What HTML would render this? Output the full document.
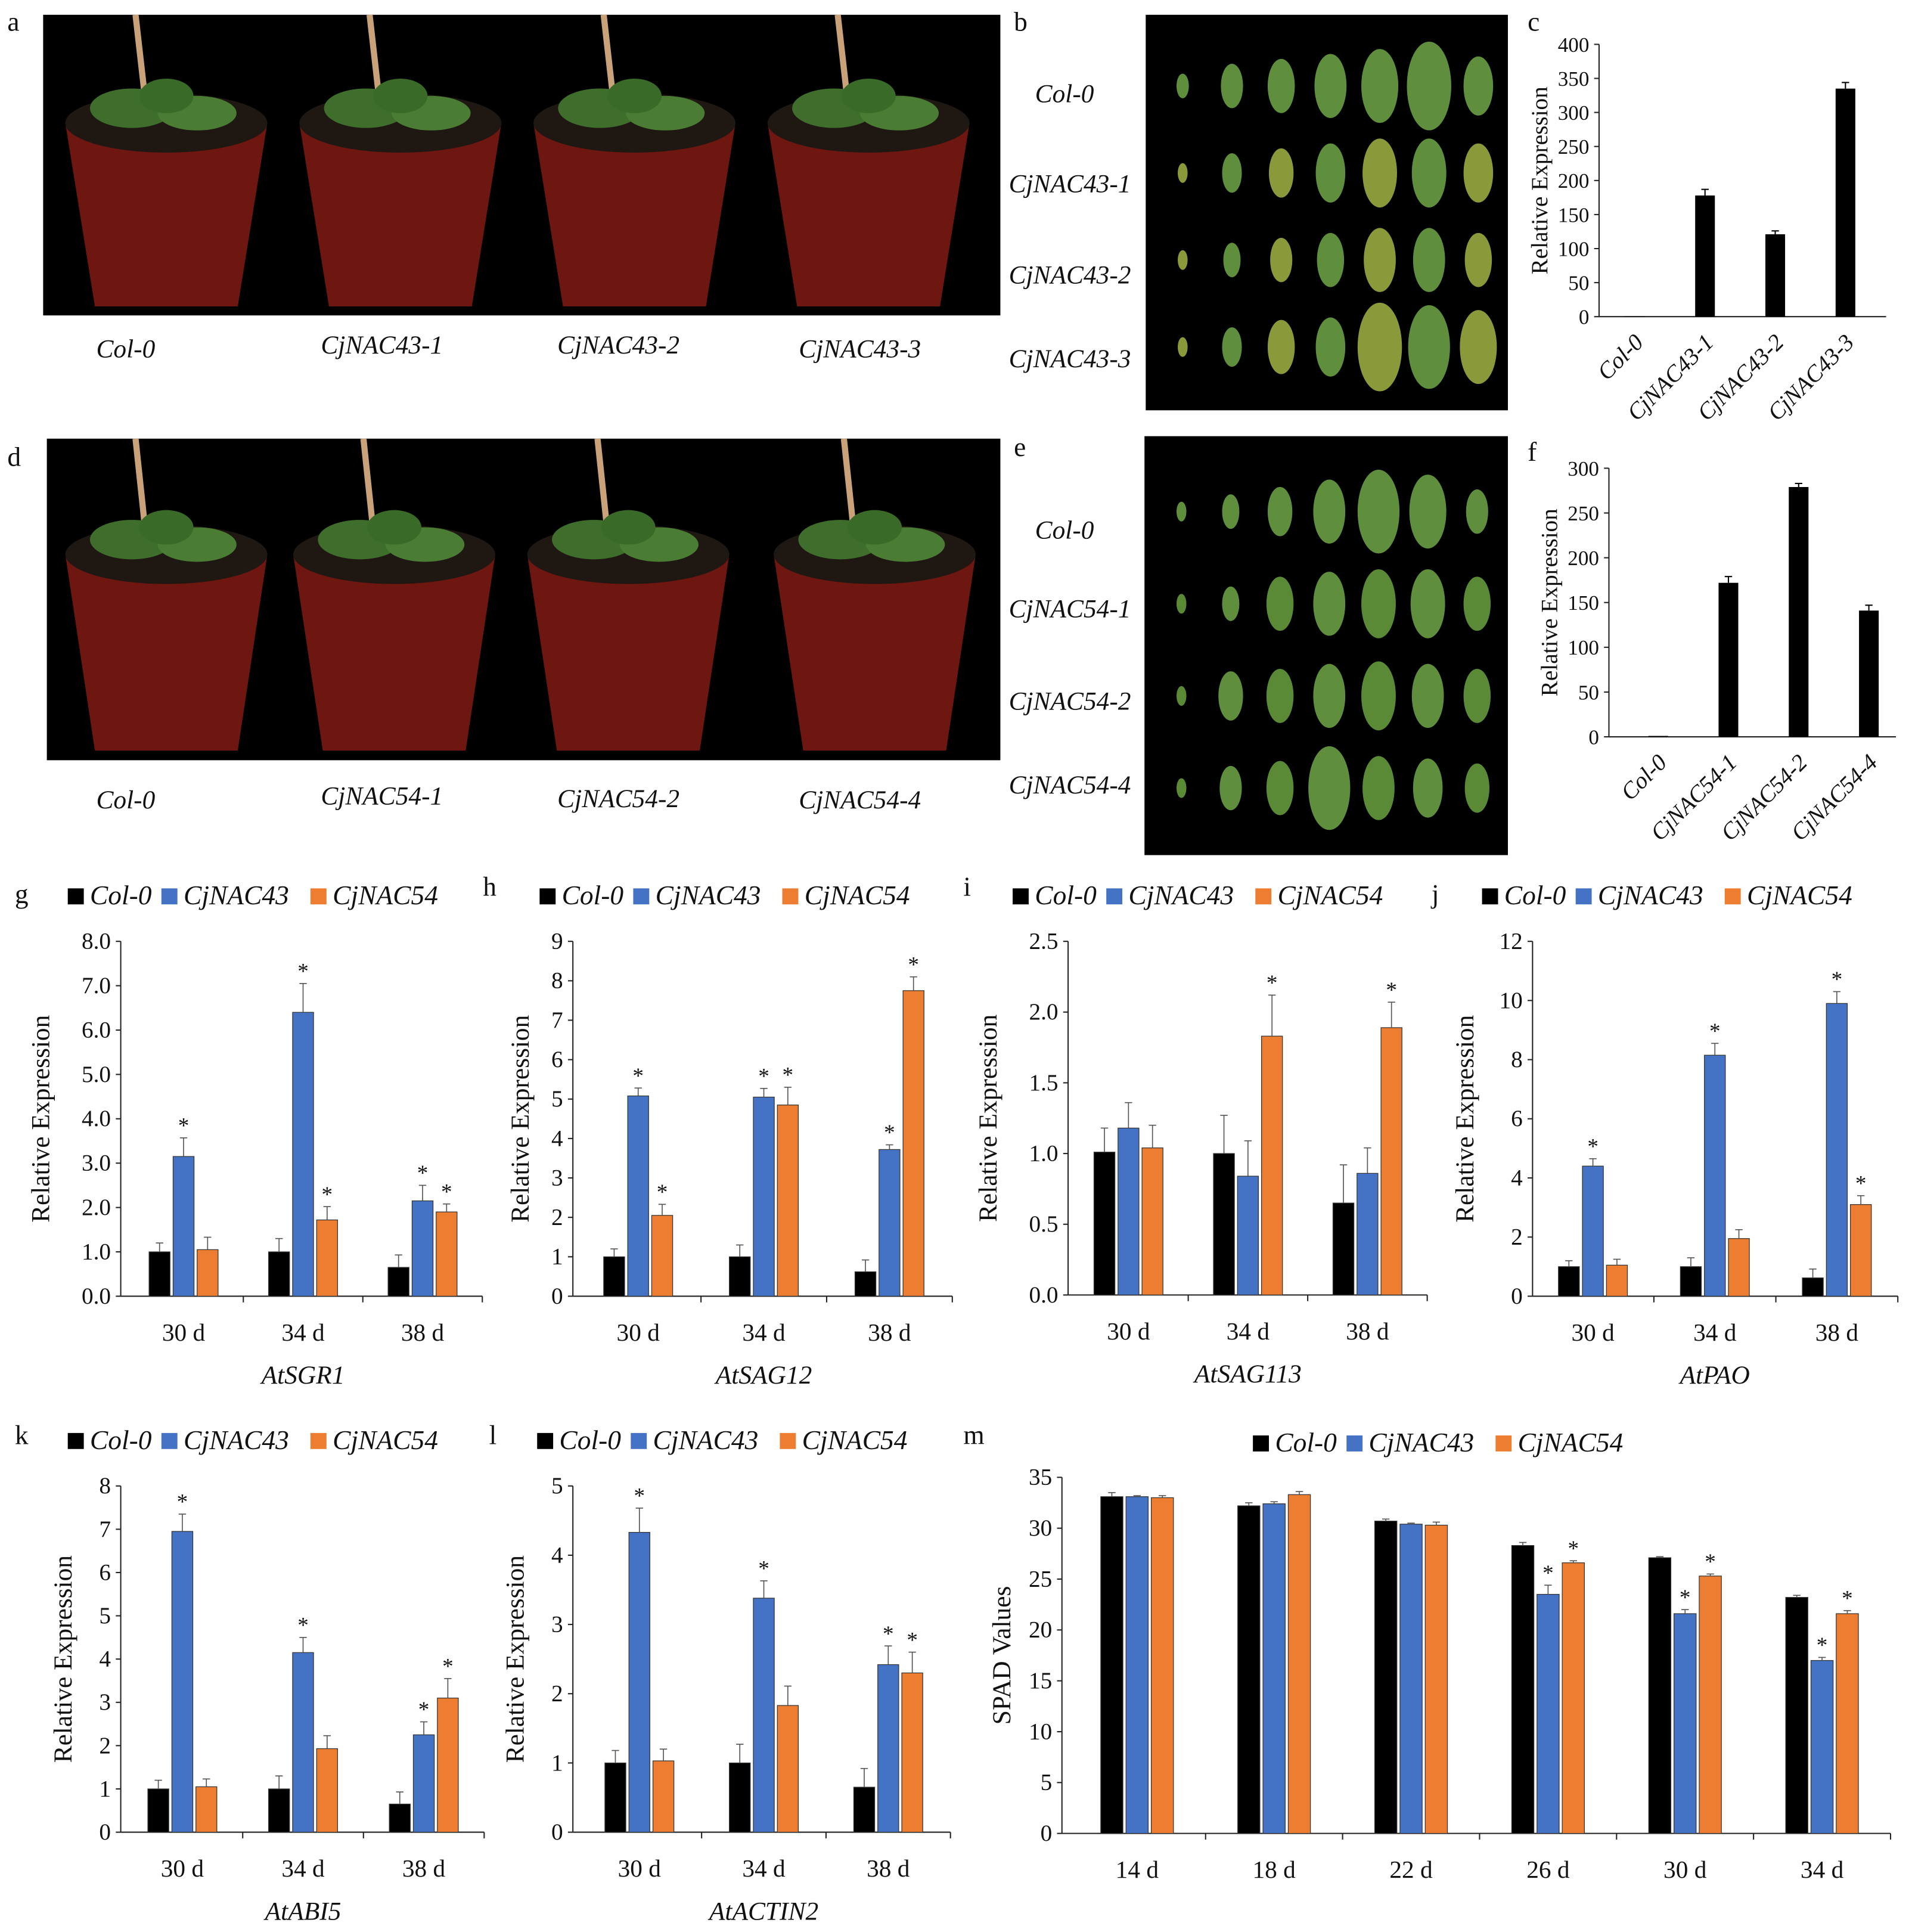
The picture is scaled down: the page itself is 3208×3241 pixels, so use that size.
<!DOCTYPE html>
<html><head><meta charset="utf-8"><style>
html,body{margin:0;padding:0;background:#fff;}
svg{display:block;}
text{font-family:"Liberation Serif",serif;fill:#111;}
.it{font-style:italic;}
</style></head><body>
<svg id="fig" xmlns="http://www.w3.org/2000/svg" width="3208" height="3241" viewBox="0 0 1552 1568">
<rect width="1552" height="1568" fill="#fff"/>
<g id="photos"></g>
<g id="charts"></g>
</svg>
<script>
// ---------- data ----------
const expLinesC = ["Col-0","CjNAC43-1","CjNAC43-2","CjNAC43-3"];
const expValsC = [0.5,178,121,335];
const expErrC = [0,9,5,9];
const expLinesF = ["Col-0","CjNAC54-1","CjNAC54-2","CjNAC54-4"];
const expValsF = [1,172,279,141];
const expErrF = [0,7,4,6];
const days3 = ["30 d","34 d","38 d"];
const sgr1Col = [1.0,1.0,0.65], sgr1N43 = [3.15,6.4,2.15], sgr1N54 = [1.05,1.72,1.9];
const sgr1ErrCol = [0.2,0.3,0.28], sgr1Err43 = [0.42,0.65,0.35], sgr1Err54 = [0.28,0.3,0.18];
const sag12Col = [1,1,0.62], sag12N43 = [5.08,5.05,3.72], sag12N54 = [2.05,4.85,7.75];
const sag12ErrCol = [0.2,0.3,0.3], sag12Err43 = [0.2,0.22,0.12], sag12Err54 = [0.28,0.45,0.35];
const sag113Col = [1.01,1.0,0.65], sag113N43 = [1.18,0.84,0.86], sag113N54 = [1.04,1.83,1.89];
const sag113ErrCol = [0.17,0.27,0.27], sag113Err43 = [0.18,0.25,0.18], sag113Err54 = [0.16,0.29,0.18];
const paoCol = [1,1,0.62], paoN43 = [4.4,8.15,9.9], paoN54 = [1.05,1.95,3.1];
const paoErrCol = [0.2,0.3,0.3], paoErr43 = [0.25,0.4,0.4], paoErr54 = [0.2,0.3,0.3];
const abi5Col = [1,1,0.65], abi5N43 = [6.95,4.15,2.25], abi5N54 = [1.05,1.93,3.1];
const abi5ErrCol = [0.2,0.3,0.28], abi5Err43 = [0.4,0.35,0.3], abi5Err54 = [0.18,0.3,0.45];
const actCol = [1,1,0.65], actN43 = [4.33,3.38,2.42], actN54 = [1.03,1.83,2.3];
const actErrCol = [0.18,0.27,0.27], actErr43 = [0.35,0.25,0.27], actErr54 = [0.17,0.28,0.3];
const spadDays = ["14 d","18 d","22 d","26 d","30 d","34 d"];
const spadCol = [33.1,32.2,30.7,28.3,27.1,23.2];
const spadN43 = [33.1,32.4,30.4,23.5,21.6,17.0];
const spadN54 = [33.0,33.3,30.3,26.6,25.3,21.6];
const spadErrCol = [0.4,0.3,0.2,0.3,0.1,0.2];
const spadErr43 = [0.1,0.2,0.1,0.9,0.4,0.3];
const spadErr54 = [0.2,0.3,0.3,0.2,0.2,0.3];
const spadStar43 = [0,0,0,1,1,1], spadStar54 = [0,0,0,1,1,1];

const NS="http://www.w3.org/2000/svg";
const photos=document.getElementById('photos');
const charts=document.getElementById('charts');
function el(tag,attrs,parent,txt){const e=document.createElementNS(NS,tag);for(const k in attrs)e.setAttribute(k,attrs[k]);if(txt!==undefined)e.textContent=txt;parent.appendChild(e);return e;}
function label(x,y,t,parent,size,italic,anchor){const e=el('text',{x:x,y:y,'font-size':size||20,'text-anchor':anchor||'start'},parent,t);if(italic)e.setAttribute('class','it');return e;}

// ---------- panel letters ----------
const letters=[["a",6,25],["b",823,25],["c",1240,25],["d",6,378],["e",823,370],["f",1240,374],["g",12,733],["h",392,727],["i",782,727],["j",1162,733],["k",12,1172],["l",397,1172],["m",782,1172]];
letters.forEach(l=>{const t=label(l[1],l[2],l[0],charts,22);

});

// ---------- photos ----------
function potPhoto(x,y,w,h,centers,name){
  const g=el('g',{},photos);
  
  
  el('rect',{x:x,y:y,width:w,height:h,fill:'#000'},g);
  centers.forEach(c=>{
    const top=y+h*0.36, bot=y+h*0.97;
    el('line',{x1:c-15,y1:top,x2:c-25,y2:y,stroke:'#c9a27a','stroke-width':5},g);
    el('path',{d:`M${c-82},${top} L${c+82},${top} L${c+58},${bot} L${c-58},${bot} Z`,fill:'#6e1610'},g);
    el('ellipse',{cx:c,cy:top,rx:82,ry:24,fill:'#1e1712'},g);
    el('ellipse',{cx:c-28,cy:top-12,rx:34,ry:16,fill:'#3f6e2c'},g);
    el('ellipse',{cx:c+25,cy:top-8,rx:32,ry:14,fill:'#4a7d33'},g);
    el('ellipse',{cx:c,cy:top-22,rx:22,ry:14,fill:'#3a6a28'},g);
  });
}
potPhoto(35,12,777,244,[135,325,515,705],'photo-a');
potPhoto(38,356,774,261,[135,320,510,710],'photo-d');
function leafPhoto(x,y,w,h,name,sizes,tint){
  const g=el('g',{},photos);
  
  
  el('rect',{x:x,y:y,width:w,height:h,fill:'#000'},g);
  for(let r=0;r<4;r++){for(let i=0;i<7;i++){
    const cx=x+30+i*40, cy=y+h*(0.18+r*0.22);
    const s=sizes[r][i];
    el('ellipse',{cx:cx,cy:cy,rx:s*0.5,ry:s,fill:(r>0&&i%2==0)?tint:'#5f8f3c'},g);
  }}
}
leafPhoto(930,12,294,321,'photo-b',[[10,18,22,26,30,36,24],[8,16,20,24,28,28,24],[8,14,18,22,26,26,22],[8,16,22,24,36,34,30]],'#8a9a3a');
leafPhoto(929,354,295,340,'photo-e',[[8,14,20,26,34,30,18],[8,14,22,26,28,28,22],[8,20,22,26,28,26,22],[8,18,22,34,26,24,20]],'#5a8a36');
const lineLabels=[["Col-0",888,83],["CjNAC43-1",918,156],["CjNAC43-2",918,230],["CjNAC43-3",918,298],["Col-0",888,437],["CjNAC54-1",918,501],["CjNAC54-2",918,576],["CjNAC54-4",918,644]];
lineLabels.forEach(l=>{const t=label(l[1],l[2],l[0],photos,21,true,'end');

});
const potLabels=[["Col-0",102,290],["CjNAC43-1",310,287],["CjNAC43-2",502,287],["CjNAC43-3",698,290],["Col-0",102,656],["CjNAC54-1",310,653],["CjNAC54-2",502,655],["CjNAC54-4",698,656]];
potLabels.forEach(l=>{const t=label(l[1],l[2],l[0],photos,21,true,'middle');

});

// ---------- single-series chart (c, f) ----------
function simpleChart(name,ax,yTop,yBot,max,step,cats,vals,errs,x0,dx){
  const g=el('g',{},charts);
  
  
  const Y=v=>yBot-(v/max)*(yBot-yTop);
  el('line',{x1:ax,y1:yTop,x2:ax,y2:yBot,stroke:'#222','stroke-width':1},g);
  el('line',{x1:ax,y1:yBot,x2:ax+4*dx+5,y2:yBot,stroke:'#222','stroke-width':1},g);
  for(let v=0;v<=max+1e-9;v+=step){
    el('line',{x1:ax-4,y1:Y(v),x2:ax,y2:Y(v),stroke:'#222'},g);
    const t=label(ax-8,Y(v)+6,String(v),g,17,false,'end');
    
    
  }
  const tt=label(0,0,'Relative Expression',g,19,false,'middle');
  tt.setAttribute('transform',`translate(${ax-42},${(yTop+yBot)/2}) rotate(-90)`);
  
  
  cats.forEach((c,i)=>{
    const cx=x0+i*dx;
    const b=el('rect',{x:cx-8,y:Y(vals[i]),width:16,height:yBot-Y(vals[i]),fill:'#000'},g);
    
    
    if(errs[i]>0){el('line',{x1:cx,y1:Y(vals[i]),x2:cx,y2:Y(vals[i]+errs[i]),stroke:'#000'},g);
      el('line',{x1:cx-3,y1:Y(vals[i]+errs[i]),x2:cx+3,y2:Y(vals[i]+errs[i]),stroke:'#000'},g);}
    const t=label(0,0,c,g,19,true,'end');
    t.setAttribute('transform',`translate(${cx+8},${yBot+22}) rotate(-45)`);
    
    
  });
}
simpleChart('chart-c',1298,36,257,400,50,expLinesC,expValsC,expErrC,1327,57);
simpleChart('chart-f',1306,380,598,300,50,expLinesF,expValsF,expErrF,1346,57);

// ---------- grouped charts ----------
const COLORS=['#000000','#4472c4','#ed7d31'];
const SERIES=['Col-0','CjNAC43','CjNAC54'];
const LEG_OFF=[0,76,197];
function legend(g,x,y){
  SERIES.forEach((s,i)=>{
    const cx=x+LEG_OFF[i];
    const r=el('rect',{x:cx,y:y-13,width:13,height:13,fill:COLORS[i]},g);
    
    
    const t=label(cx+18,y,s,g,22,true);
    
    
  });
}
function groupChart(o){
  const g=el('g',{},charts);
  
  
  const Y=v=>o.yBot-(v/o.max)*(o.yBot-o.yTop);
  const n=o.cats.length;
  const xEnd=o.x0+(n-0.5)*o.dx;
  el('line',{x1:o.ax,y1:o.yTop,x2:o.ax,y2:o.yBot,stroke:'#222'},g);
  el('line',{x1:o.ax,y1:o.yBot,x2:xEnd,y2:o.yBot,stroke:'#222'},g);
  for(let k=0;k<=Math.round(o.max/o.step);k++){
    const v=k*o.step;
    el('line',{x1:o.ax-4,y1:Y(v),x2:o.ax,y2:Y(v),stroke:'#222'},g);
    const t=label(o.ax-8,Y(v)+6,v.toFixed(o.dec),g,19,false,'end');
    
    
  }
  for(let i=1;i<=n;i++){const bx=o.x0+(i-0.5)*o.dx;el('line',{x1:bx,y1:o.yBot,x2:bx,y2:o.yBot+5,stroke:'#222'},g);}
  const tt=label(0,0,o.ytitle,g,21,false,'middle');
  tt.setAttribute('transform',`translate(${o.ax-o.tOff},${(o.yTop+o.yBot)/2}) rotate(-90)`);
  
  
  const ser=[o.a,o.b,o.c], errs=[o.ea,o.eb,o.ec];
  const offs=[-o.bw-2.5,0,o.bw+2.5];
  o.cats.forEach((c,i)=>{
    const gc=o.x0+i*o.dx;
    ser.forEach((s,j)=>{
      const cx=gc+offs[j];
      const b=el('rect',{x:cx-o.bw/2,y:Y(s[i]),width:o.bw,height:o.yBot-Y(s[i]),fill:COLORS[j],stroke:'#333','stroke-width':0.6},g);
      
      
      const top=Y(s[i]+errs[j][i]);
      el('line',{x1:cx,y1:Y(s[i]),x2:cx,y2:top,stroke:'#555','stroke-width':0.8},g);
      el('line',{x1:cx-3,y1:top,x2:cx+3,y2:top,stroke:'#555','stroke-width':0.8},g);
      if(j>0 && o.star(j,i)){const st=label(cx,top-4,'*',g,18,false,'middle');
        
        }
    });
    const t=label(gc,o.yBot+36,c,g,20,false,'middle');
    
    
  });
  if(o.gene){const t=label(o.x0+o.dx,o.yBot+71,o.gene,g,21,true,'middle');
    
    }
  legend(g,o.lx,o.ly);
}
const starAll=(j,i)=>true;
groupChart({name:'chart-g-sgr1',ax:98,yTop:764,yBot:1052,max:8,step:1,dec:1,cats:days3,x0:149,dx:97,bw:17,a:sgr1Col,b:sgr1N43,c:sgr1N54,ea:sgr1ErrCol,eb:sgr1Err43,ec:sgr1Err54,star:(j,i)=>!(j==2&&i==0),gene:'AtSGR1',ytitle:'Relative Expression',tOff:58,lx:55,ly:734});
groupChart({name:'chart-h-sag12',ax:465,yTop:764,yBot:1052,max:9,step:1,dec:0,cats:days3,x0:518,dx:102,bw:17,a:sag12Col,b:sag12N43,c:sag12N54,ea:sag12ErrCol,eb:sag12Err43,ec:sag12Err54,star:starAll,gene:'AtSAG12',ytitle:'Relative Expression',tOff:36,lx:438,ly:734});
groupChart({name:'chart-i-sag113',ax:867,yTop:764,yBot:1051,max:2.5,step:0.5,dec:1,cats:days3,x0:916,dx:97,bw:17,a:sag113Col,b:sag113N43,c:sag113N54,ea:sag113ErrCol,eb:sag113Err43,ec:sag113Err54,star:(j,i)=>(j==2&&i>0),gene:'AtSAG113',ytitle:'Relative Expression',tOff:58,lx:822,ly:734});
groupChart({name:'chart-j-pao',ax:1244,yTop:764,yBot:1052,max:12,step:2,dec:0,cats:days3,x0:1293,dx:99,bw:17,a:paoCol,b:paoN43,c:paoN54,ea:paoErrCol,eb:paoErr43,ec:paoErr54,star:(j,i)=>(j==1||i==2),gene:'AtPAO',ytitle:'Relative Expression',tOff:48,lx:1203,ly:734});
groupChart({name:'chart-k-abi5',ax:98,yTop:1206,yBot:1487,max:8,step:1,dec:0,cats:days3,x0:148,dx:98,bw:17,a:abi5Col,b:abi5N43,c:abi5N54,ea:abi5ErrCol,eb:abi5Err43,ec:abi5Err54,star:(j,i)=>(j==1||i==2),gene:'AtABI5',ytitle:'Relative Expression',tOff:40,lx:55,ly:1176});
groupChart({name:'chart-l-actin2',ax:465,yTop:1206,yBot:1487,max:5,step:1,dec:0,cats:days3,x0:519,dx:101,bw:17,a:actCol,b:actN43,c:actN54,ea:actErrCol,eb:actErr43,ec:actErr54,star:(j,i)=>(j==1||i==2),gene:'AtACTIN2',ytitle:'Relative Expression',tOff:40,lx:436,ly:1176});
groupChart({name:'chart-m-spad',ax:862,yTop:1199,yBot:1488,max:35,step:5,dec:0,cats:spadDays,x0:923,dx:111.2,bw:18,a:spadCol,b:spadN43,c:spadN54,ea:spadErrCol,eb:spadErr43,ec:spadErr54,star:(j,i)=>(j==1?spadStar43[i]:spadStar54[i]),gene:null,ytitle:'SPAD Values',tOff:42,lx:1017,ly:1178});
</script>
</body></html>
